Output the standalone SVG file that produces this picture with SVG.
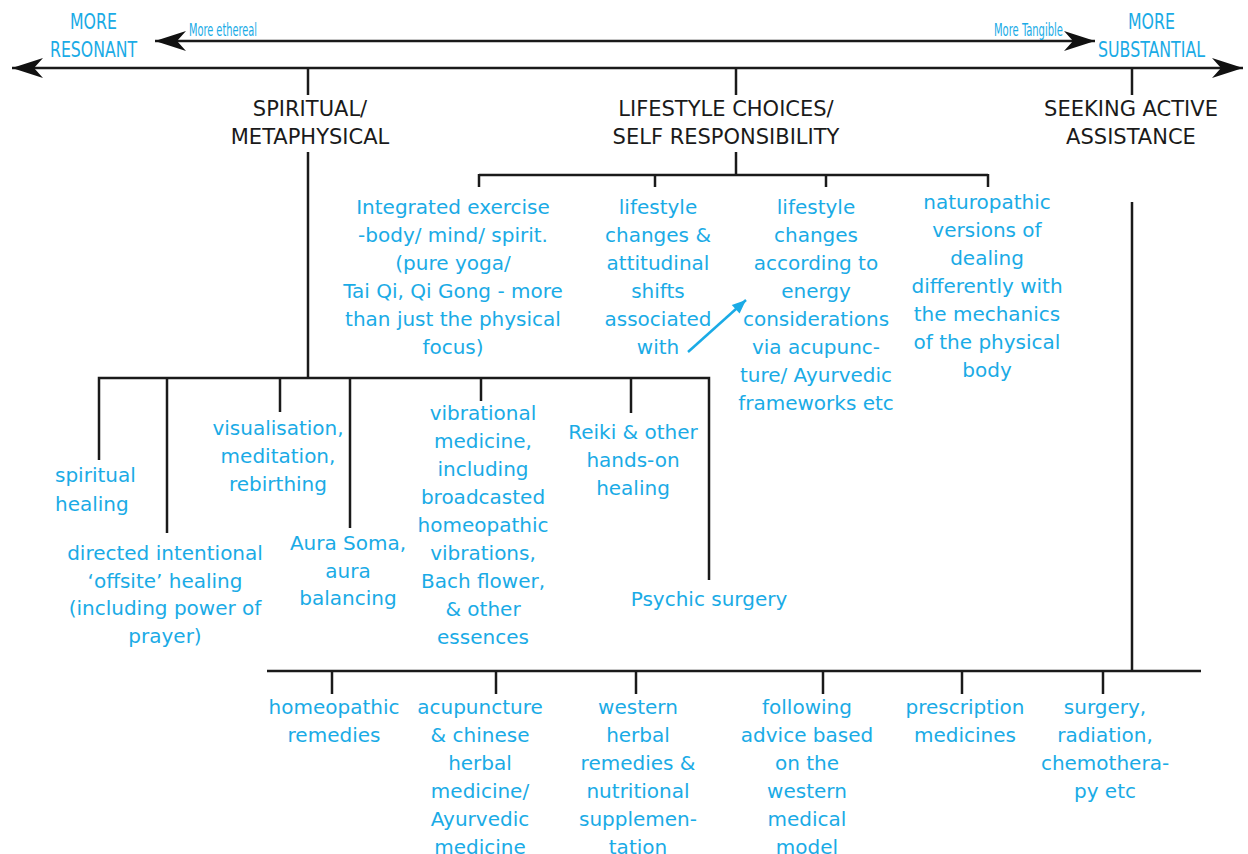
<svg xmlns="http://www.w3.org/2000/svg" width="1248" height="854" viewBox="0 0 1248 854">
<defs>
<marker id="ah" markerUnits="userSpaceOnUse" markerWidth="34" markerHeight="24" viewBox="-32 -11 34 22" refX="0" refY="0" orient="auto-start-reverse">
<path d="M0,0 L-31,-10 L-22,0 L-31,10 Z" fill="#111"/>
</marker>
<marker id="ch" markerUnits="userSpaceOnUse" markerWidth="16" markerHeight="14" viewBox="-14 -6 15 12" refX="0" refY="0" orient="auto">
<path d="M0,0 L-13,-5.5 L-13,5.5 Z" fill="#1aabe6"/>
</marker>
</defs>
<style>
.ln{stroke:#1a1a1a;stroke-width:2.5;fill:none}
.t{font-family:"DejaVu Sans",Verdana,sans-serif;font-size:20px;fill:#1aabe6;text-anchor:middle}
.h{font-family:"DejaVu Sans",Verdana,sans-serif;font-size:21px;fill:#1a1a1a;text-anchor:middle}
.n{font-family:"DejaVu Sans Condensed","DejaVu Sans",sans-serif;font-stretch:condensed;fill:#1aabe6}
</style>
<rect width="1248" height="854" fill="#fff"/>
<g id="connectors">
<line class="ln" x1="155" y1="41" x2="1095" y2="41" marker-start="url(#ah)" marker-end="url(#ah)"/>
<line class="ln" x1="12" y1="68" x2="1243" y2="68" marker-start="url(#ah)" marker-end="url(#ah)"/>
<line class="ln" x1="308" y1="68" x2="308" y2="95"/>
<line class="ln" x1="736" y1="68" x2="736" y2="95"/>
<line class="ln" x1="1132" y1="68" x2="1132" y2="95"/>
<line class="ln" x1="736" y1="152" x2="736" y2="175"/>
<line class="ln" x1="479" y1="175" x2="988" y2="175"/>
<line class="ln" x1="479" y1="174" x2="479" y2="187"/>
<line class="ln" x1="655" y1="174" x2="655" y2="187"/>
<line class="ln" x1="826" y1="174" x2="826" y2="187"/>
<line class="ln" x1="988" y1="174" x2="988" y2="187"/>
<line class="ln" x1="308" y1="152" x2="308" y2="378"/>
<polyline class="ln" points="99,460 99,378 709,378 709,580"/>
<line class="ln" x1="167" y1="378" x2="167" y2="533"/>
<line class="ln" x1="280" y1="378" x2="280" y2="412"/>
<line class="ln" x1="350" y1="378" x2="350" y2="528"/>
<line class="ln" x1="481" y1="378" x2="481" y2="401"/>
<line class="ln" x1="631" y1="378" x2="631" y2="413"/>
<line class="ln" x1="1132" y1="202" x2="1132" y2="671"/>
<line class="ln" x1="267" y1="671" x2="1201" y2="671"/>
<line class="ln" x1="332" y1="671" x2="332" y2="694"/>
<line class="ln" x1="496" y1="671" x2="496" y2="694"/>
<line class="ln" x1="636" y1="671" x2="636" y2="694"/>
<line class="ln" x1="823" y1="671" x2="823" y2="694"/>
<line class="ln" x1="962" y1="671" x2="962" y2="694"/>
<line class="ln" x1="1103" y1="671" x2="1103" y2="694"/>
<line x1="688" y1="352" x2="746" y2="300" stroke="#1aabe6" stroke-width="2.5" marker-end="url(#ch)"/>
</g>
<g id="axis-labels">
<text class="n" x="70" y="29" font-size="22" textLength="47" lengthAdjust="spacingAndGlyphs">MORE</text>
<text class="n" x="50" y="57" font-size="22" textLength="87" lengthAdjust="spacingAndGlyphs">RESONANT</text>
<text class="n" x="189" y="36" font-size="17" textLength="68" lengthAdjust="spacingAndGlyphs">More ethereal</text>
<text class="n" x="994" y="36" font-size="17" textLength="69" lengthAdjust="spacingAndGlyphs">More Tangible</text>
<text class="n" x="1128" y="29" font-size="22" textLength="47" lengthAdjust="spacingAndGlyphs">MORE</text>
<text class="n" x="1098" y="57" font-size="22" textLength="107" lengthAdjust="spacingAndGlyphs">SUBSTANTIAL</text>
</g>
<g id="spiritual"><text class="h" x="310" y="116">SPIRITUAL/</text><text class="h" x="310" y="144">METAPHYSICAL</text></g>
<g id="lifestyle"><text class="h" x="726" y="116">LIFESTYLE CHOICES/</text><text class="h" x="726" y="144">SELF RESPONSIBILITY</text></g>
<g id="seeking"><text class="h" x="1131" y="116">SEEKING ACTIVE</text><text class="h" x="1131" y="144">ASSISTANCE</text></g>
<g id="integrated"><text class="t" x="453" y="214">Integrated exercise</text><text class="t" x="453" y="242">-body/ mind/ spirit.</text><text class="t" x="453" y="270">(pure yoga/</text><text class="t" x="453" y="298">Tai Qi, Qi Gong - more</text><text class="t" x="453" y="326">than just the physical</text><text class="t" x="453" y="354">focus)</text></g>
<g id="attitudinal"><text class="t" x="658" y="214">lifestyle</text><text class="t" x="658" y="242">changes &amp;</text><text class="t" x="658" y="270">attitudinal</text><text class="t" x="658" y="298">shifts</text><text class="t" x="658" y="326">associated</text><text class="t" x="658" y="354">with</text></g>
<g id="energy"><text class="t" x="816" y="214">lifestyle</text><text class="t" x="816" y="242">changes</text><text class="t" x="816" y="270">according to</text><text class="t" x="816" y="298">energy</text><text class="t" x="816" y="326">considerations</text><text class="t" x="816" y="354">via acupunc-</text><text class="t" x="816" y="382">ture/ Ayurvedic</text><text class="t" x="816" y="410">frameworks etc</text></g>
<g id="naturopathic"><text class="t" x="987" y="209">naturopathic</text><text class="t" x="987" y="237">versions of</text><text class="t" x="987" y="265">dealing</text><text class="t" x="987" y="293">differently with</text><text class="t" x="987" y="321">the mechanics</text><text class="t" x="987" y="349">of the physical</text><text class="t" x="987" y="377">body</text></g>
<g id="spiritual-healing"><text class="t" x="55" y="482" style="text-anchor:start">spiritual</text><text class="t" x="55" y="511" style="text-anchor:start">healing</text></g>
<g id="directed"><text class="t" x="165" y="560">directed intentional</text><text class="t" x="165" y="588">‘offsite’ healing</text><text class="t" x="165" y="615">(including power of</text><text class="t" x="165" y="643">prayer)</text></g>
<g id="visualisation"><text class="t" x="278" y="435">visualisation,</text><text class="t" x="278" y="463">meditation,</text><text class="t" x="278" y="491">rebirthing</text></g>
<g id="aura"><text class="t" x="348" y="550">Aura Soma,</text><text class="t" x="348" y="578">aura</text><text class="t" x="348" y="605">balancing</text></g>
<g id="vibrational"><text class="t" x="483" y="420">vibrational</text><text class="t" x="483" y="448">medicine,</text><text class="t" x="483" y="476">including</text><text class="t" x="483" y="504">broadcasted</text><text class="t" x="483" y="532">homeopathic</text><text class="t" x="483" y="560">vibrations,</text><text class="t" x="483" y="588">Bach flower,</text><text class="t" x="483" y="616">&amp; other</text><text class="t" x="483" y="644">essences</text></g>
<g id="reiki"><text class="t" x="633" y="439">Reiki &amp; other</text><text class="t" x="633" y="467">hands-on</text><text class="t" x="633" y="495">healing</text></g>
<g id="psychic"><text class="t" x="709" y="606">Psychic surgery</text></g>
<g id="homeopathic"><text class="t" x="334" y="714">homeopathic</text><text class="t" x="334" y="742">remedies</text></g>
<g id="acupuncture"><text class="t" x="480" y="714">acupuncture</text><text class="t" x="480" y="742">&amp; chinese</text><text class="t" x="480" y="770">herbal</text><text class="t" x="480" y="798">medicine/</text><text class="t" x="480" y="826">Ayurvedic</text><text class="t" x="480" y="854">medicine</text></g>
<g id="western-herbal"><text class="t" x="638" y="714">western</text><text class="t" x="638" y="742">herbal</text><text class="t" x="638" y="770">remedies &amp;</text><text class="t" x="638" y="798">nutritional</text><text class="t" x="638" y="826">supplemen-</text><text class="t" x="638" y="854">tation</text></g>
<g id="following"><text class="t" x="807" y="714">following</text><text class="t" x="807" y="742">advice based</text><text class="t" x="807" y="770">on the</text><text class="t" x="807" y="798">western</text><text class="t" x="807" y="826">medical</text><text class="t" x="807" y="854">model</text></g>
<g id="prescription"><text class="t" x="965" y="714">prescription</text><text class="t" x="965" y="742">medicines</text></g>
<g id="surgery"><text class="t" x="1105" y="714">surgery,</text><text class="t" x="1105" y="742">radiation,</text><text class="t" x="1105" y="770">chemothera-</text><text class="t" x="1105" y="798">py etc</text></g>
</svg>
